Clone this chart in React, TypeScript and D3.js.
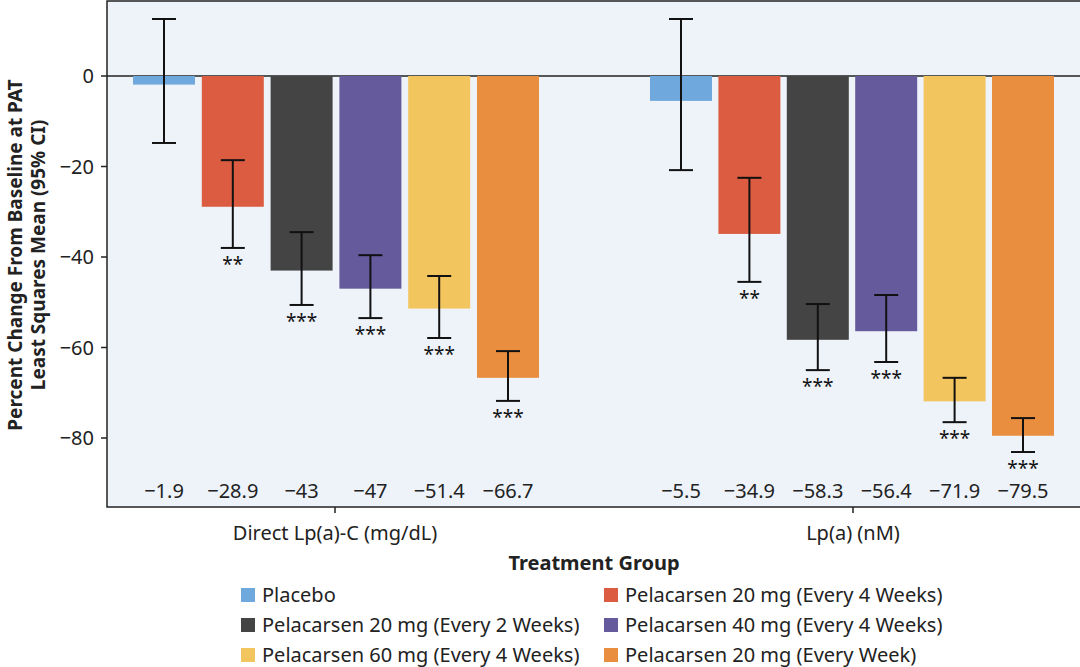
import React from "react";
import * as d3 from "d3";

const groups = ["Direct Lp(a)-C (mg/dL)", "Lp(a) (nM)"];
const series = [
  "Placebo",
  "Pelacarsen 20 mg (Every 4 Weeks)",
  "Pelacarsen 20 mg (Every 2 Weeks)",
  "Pelacarsen 40 mg (Every 4 Weeks)",
  "Pelacarsen 60 mg (Every 4 Weeks)",
  "Pelacarsen 20 mg (Every Week)",
];
const colors = ["#6fa8dc", "#dc5c42", "#444444", "#655a9c", "#f2c55f", "#e98e3f"];
const values = [
  [-1.9, -28.9, -43, -47, -51.4, -66.7],
  [-5.5, -34.9, -58.3, -56.4, -71.9, -79.5],
];
const ciLow = [
  [-14.8, -38, -50.6, -53.5, -57.9, -71.8],
  [-20.8, -45.5, -65, -63.2, -76.5, -83.1],
];
const ciHigh = [
  [12.6, -18.6, -34.5, -39.6, -44.2, -60.8],
  [12.6, -22.5, -50.4, -48.4, -66.7, -75.6],
];
const stars = [
  ["", "**", "***", "***", "***", "***"],
  ["", "**", "***", "***", "***", "***"],
];
const labels = [
  ["\u22121.9", "\u221228.9", "\u221243", "\u221247", "\u221251.4", "\u221266.7"],
  ["\u22125.5", "\u221234.9", "\u221258.3", "\u221256.4", "\u221271.9", "\u221279.5"],
];
const yTicks = [0, -20, -40, -60, -80];

const W = 1080, H = 667;
const L = 107, T = 1, B = 507, R = 1082;
const font = "'Noto Sans', sans-serif";

export default function App() {
  const y = d3.scaleLinear().domain([-80, 0]).range([438, 76]);
  const groupStart = [133, 650];
  const step = [68.8, 68.4], bw = 62;
  const xBar = (g: number, i: number) => groupStart[g] + i * step[g];
  const groupCenter = [335, 853];
  return (
    <svg width={W} height={H} style={{ position: "absolute", left: 0, top: 0 }} fontFamily={font}>
      <rect x={L} y={T} width={R - L} height={B - T} fill="#eef3fa" stroke="#222" strokeWidth={1.5} />
      <line x1={L} x2={R} y1={y(0)} y2={y(0)} stroke="#222" strokeWidth={1.5} />
      {yTicks.map((t) => (
        <g key={t}>
          <line x1={L - 6} x2={L} y1={y(t)} y2={y(t)} stroke="#222" strokeWidth={1.5} />
          <text x={L - 13} y={y(t)} dy="0.35em" textAnchor="end" fontSize={20} fill="#222">
            {t === 0 ? "0" : "\u2212" + Math.abs(t)}
          </text>
        </g>
      ))}
      {values.map((vs, g) =>
        vs.map((v, i) => {
          const x = xBar(g, i);
          const cx = x + bw / 2;
          return (
            <g key={g + "-" + i}>
              <rect x={x} y={y(0)} width={bw} height={y(v) - y(0)} fill={colors[i]} />
              <line x1={cx} x2={cx} y1={y(ciHigh[g][i])} y2={y(ciLow[g][i])} stroke="#111" strokeWidth={2} />
              <line x1={cx - 12} x2={cx + 12} y1={y(ciHigh[g][i])} y2={y(ciHigh[g][i])} stroke="#111" strokeWidth={2} />
              <line x1={cx - 12} x2={cx + 12} y1={y(ciLow[g][i])} y2={y(ciLow[g][i])} stroke="#111" strokeWidth={2} />
              <text x={cx} y={y(ciLow[g][i]) + 23} textAnchor="middle" fontSize={19} fill="#111">{stars[g][i]}</text>
              <text x={cx} y={498} textAnchor="middle" fontSize={20} fill="#222">{labels[g][i]}</text>
            </g>
          );
        })
      )}
      {groups.map((gname, g) => (
        <g key={gname}>
          <line x1={groupCenter[g]} x2={groupCenter[g]} y1={B} y2={B + 6} stroke="#222" strokeWidth={1.5} />
          <text x={groupCenter[g]} y={540} textAnchor="middle" fontSize={20} fill="#222">{gname}</text>
        </g>
      ))}
      <text x={594} y={570} textAnchor="middle" fontSize={20} fontWeight="bold" fill="#222">Treatment Group</text>
      <text transform="translate(22,255) rotate(-90)" textAnchor="middle" fontSize={19} fontWeight="bold" fill="#222">
        <tspan x={0} dy={0}>Percent Change From Baseline at PAT</tspan>
        <tspan x={0} dy={23}>Least Squares Mean (95% CI)</tspan>
      </text>
      {series.map((s, i) => {
        const col = i % 2, row = Math.floor(i / 2);
        const lx = col === 0 ? 241 : 604;
        const ly = 595 + row * 30;
        return (
          <g key={s}>
            <rect x={lx} y={ly - 7} width={14} height={14} fill={colors[i]} />
            <text x={lx + 21} y={ly} dy="0.35em" fontSize={20} fill="#222">{s}</text>
          </g>
        );
      })}
    </svg>
  );
}
